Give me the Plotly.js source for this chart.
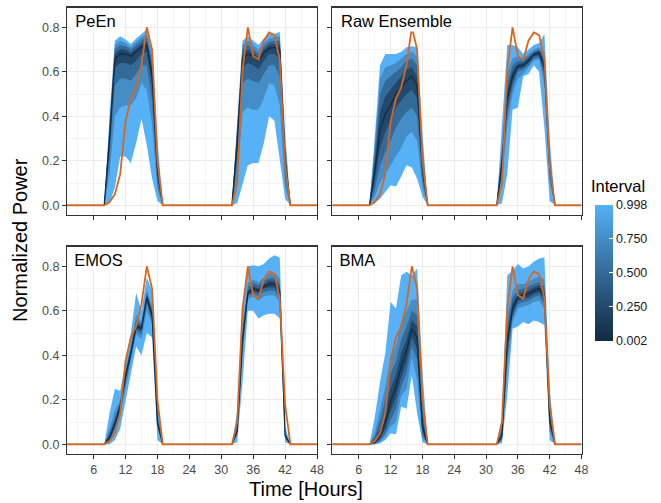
<!DOCTYPE html>
<html>
<head>
<meta charset="utf-8">
<script src="https://cdn.plot.ly/plotly-3.0.1.min.js"></script>
<style>html,body{margin:0;padding:0;background:#fff;}#chart{width:661px;height:503px;}</style>
</head>
<body>
<div id="chart"></div>
<script>
// ---------------- DATA ----------------
// hours: night hours are zero for every series, so only the edges of the night are listed
const hours = [1, 8,9,10,11,12,13,14,15,16,17,18,19, 32,33,34,35,36,37,38,39,40,41,42,43, 48];

const panelNames = ["PeEn", "Raw Ensemble", "EMOS", "BMA"];
const intervalLevels = [0.998, 0.75, 0.5, 0.25];
const medianLevel = 0.002;
const legendTicks = [0.002, 0.25, 0.5, 0.75, 0.998];
const legendTickText = ["0.002", "0.250", "0.500", "0.750", "0.998"];

const observed = [0, 0,0.015,0.05,0.14,0.375,0.48,0.53,0.63,0.80,0.70,0.20,0, 0,0.10,0.61,0.80,0.67,0.655,0.74,0.777,0.765,0.655,0.18,0, 0];

// PeEn
const peenUp998 = [0, 0,.40,.74,.76,.745,.725,.75,.77,.79,.70,.30,0, 0,.38,.74,.76,.74,.72,.75,.77,.77,.78,.33,0, 0];
const peenUp75  = [0, 0,.37,.72,.74,.73,.71,.735,.755,.77,.67,.25,0, 0,.35,.72,.74,.72,.70,.73,.75,.755,.76,.29,0, 0];
const peenUp50  = [0, 0,.35,.70,.72,.715,.70,.72,.74,.755,.64,.22,0, 0,.33,.70,.72,.70,.68,.715,.735,.74,.74,.26,0, 0];
const peenUp25  = [0, 0,.32,.68,.70,.70,.685,.705,.725,.735,.61,.19,0, 0,.30,.68,.70,.685,.665,.70,.72,.725,.72,.23,0, 0];
const peenMed   = [0, 0,.30,.66,.68,.68,.67,.69,.71,.72,.58,.16,0, 0,.28,.66,.68,.67,.65,.685,.705,.71,.70,.20,0, 0];
const peenLo25  = [0, 0,.26,.62,.64,.64,.63,.65,.68,.69,.54,.13,0, 0,.24,.62,.64,.63,.61,.65,.68,.68,.66,.16,0, 0];
const peenLo50  = [0, 0,.21,.54,.57,.57,.56,.59,.63,.63,.47,.10,0, 0,.19,.55,.57,.56,.55,.59,.63,.63,.58,.12,0, 0];
const peenLo75  = [0, 0,.14,.40,.44,.45,.45,.48,.55,.52,.36,.07,0, 0,.12,.42,.44,.43,.43,.48,.55,.54,.45,.08,0, 0];
const peenLo998 = [0, 0,.01,.08,.22,.22,.19,.28,.39,.27,.12,.02,0, 0,.01,.10,.18,.19,.19,.28,.40,.38,.20,.03,0, 0];

// Raw Ensemble
const rawUp998 = [0, 0,.30,.63,.68,.68,.68,.69,.71,.715,.71,.33,0, 0,.36,.72,.72,.71,.68,.70,.72,.73,.77,.30,0, 0];
const rawUp75  = [0, 0,.27,.57,.62,.63,.64,.66,.68,.69,.67,.28,0, 0,.26,.60,.66,.67,.66,.68,.70,.71,.69,.24,0, 0];
const rawUp50  = [0, 0,.23,.50,.56,.58,.60,.62,.65,.66,.63,.24,0, 0,.23,.55,.63,.65,.65,.67,.69,.70,.67,.21,0, 0];
const rawUp25  = [0, 0,.19,.42,.49,.52,.55,.58,.61,.62,.58,.20,0, 0,.21,.51,.605,.635,.64,.66,.685,.695,.645,.19,0, 0];
const rawMed   = [0, 0,.15,.34,.41,.45,.50,.53,.56,.58,.54,.17,0, 0,.19,.48,.58,.625,.63,.65,.677,.685,.625,.17,0, 0];
const rawLo25  = [0, 0,.11,.26,.33,.38,.44,.47,.50,.52,.48,.14,0, 0,.17,.45,.555,.615,.62,.64,.67,.675,.605,.15,0, 0];
const rawLo50  = [0, 0,.07,.18,.24,.29,.35,.39,.42,.44,.40,.11,0, 0,.15,.41,.53,.60,.61,.63,.66,.665,.58,.13,0, 0];
const rawLo75  = [0, 0,.04,.10,.14,.18,.22,.26,.31,.33,.29,.08,0, 0,.12,.36,.50,.57,.59,.62,.65,.655,.54,.10,0, 0];
const rawLo998 = [0, 0,.01,.03,.06,.09,.085,.13,.18,.17,.12,.04,0, 0,.01,.14,.43,.44,.58,.59,.63,.60,.35,.02,0, 0];

// EMOS
const emosUp998 = [0, 0,.14,.25,.24,.37,.50,.68,.60,.75,.69,.20,0, 0,.15,.62,.80,.805,.80,.81,.835,.85,.84,.08,0, 0];
const emosUp75  = [0, 0,.07,.15,.20,.335,.445,.585,.55,.695,.62,.14,0, 0,.09,.525,.725,.74,.73,.75,.765,.77,.745,.055,0, 0];
const emosUp50  = [0, 0,.055,.125,.185,.325,.43,.56,.54,.68,.605,.125,0, 0,.08,.50,.705,.725,.715,.735,.745,.75,.72,.05,0, 0];
const emosUp25  = [0, 0,.04,.105,.18,.315,.42,.545,.53,.67,.595,.11,0, 0,.07,.485,.69,.71,.70,.72,.735,.735,.705,.045,0, 0];
const emosMed   = [0, 0,.03,.09,.17,.31,.41,.53,.52,.66,.58,.10,0, 0,.06,.47,.68,.70,.69,.71,.72,.72,.69,.04,0, 0];
const emosLo25  = [0, 0,.02,.08,.16,.295,.40,.52,.51,.645,.565,.09,0, 0,.055,.45,.67,.69,.68,.70,.705,.705,.675,.035,0, 0];
const emosLo50  = [0, 0,.015,.075,.15,.285,.39,.51,.495,.635,.555,.085,0, 0,.05,.43,.665,.68,.665,.685,.69,.69,.66,.03,0, 0];
const emosLo75  = [0, 0,.01,.065,.13,.265,.375,.495,.475,.60,.54,.07,0, 0,.04,.40,.65,.665,.645,.665,.67,.67,.64,.025,0, 0];
const emosLo998 = [0, 0,0,.02,.07,.20,.32,.44,.40,.50,.48,.02,0, 0,.01,.28,.60,.60,.565,.58,.587,.587,.565,.01,0, 0];

// BMA
const bmaUp998 = [0, 0,.12,.28,.41,.64,.61,.76,.775,.76,.79,.33,0, 0,.12,.76,.78,.81,.79,.80,.82,.835,.84,.25,0, 0];
const bmaUp75  = [0, 0,.05,.16,.26,.40,.44,.55,.60,.65,.65,.20,0, 0,.08,.58,.69,.72,.72,.73,.745,.755,.74,.17,0, 0];
const bmaUp50  = [0, 0,.035,.11,.20,.32,.37,.47,.53,.60,.58,.15,0, 0,.065,.53,.66,.695,.70,.71,.72,.73,.71,.145,0, 0];
const bmaUp25  = [0, 0,.02,.07,.15,.25,.31,.41,.47,.56,.53,.11,0, 0,.05,.49,.635,.675,.685,.69,.705,.715,.69,.125,0, 0];
const bmaMed   = [0, 0,.01,.04,.10,.19,.26,.35,.42,.52,.48,.08,0, 0,.04,.46,.61,.66,.67,.677,.69,.70,.67,.11,0, 0];
const bmaLo25  = [0, 0,.005,.025,.07,.15,.21,.30,.37,.48,.43,.06,0, 0,.03,.43,.59,.645,.655,.66,.675,.685,.65,.095,0, 0];
const bmaLo50  = [0, 0,.003,.018,.05,.11,.16,.26,.32,.44,.38,.045,0, 0,.022,.39,.57,.63,.64,.645,.66,.67,.63,.08,0, 0];
const bmaLo75  = [0, 0,.001,.01,.035,.08,.10,.22,.25,.39,.29,.03,0, 0,.015,.34,.55,.61,.62,.625,.64,.645,.61,.06,0, 0];
const bmaLo998 = [0, 0,0,.005,.02,.05,.045,.17,.16,.31,.14,.01,0, 0,.005,.22,.52,.53,.55,.54,.557,.55,.535,.02,0, 0];

// ---------------- STYLE ----------------
const colorStops = [[0, "#132B43"], [0.25, "#22496C"], [0.5, "#336A98"], [0.75, "#448DC6"], [1, "#56B1F7"]];
const cMin = 0.002, cMax = 0.998;
function hexToRgb(h){return [parseInt(h.substr(1,2),16),parseInt(h.substr(3,2),16),parseInt(h.substr(5,2),16)];}
function colorAt(v){
  const t = Math.max(0, Math.min(1, (v - cMin) / (cMax - cMin)));
  for (let i = 1; i < colorStops.length; i++){
    if (t <= colorStops[i][0]){
      const a = colorStops[i-1], b = colorStops[i];
      const f = (t - a[0]) / (b[0] - a[0]);
      const ca = hexToRgb(a[1]), cb = hexToRgb(b[1]);
      const c = ca.map((x, k) => Math.round(x + (cb[k] - x) * f));
      return "rgb(" + c.join(",") + ")";
    }
  }
  return colorStops[colorStops.length-1][1];
}
const obsColor = "#D9661F";

const panels = [
  {xa: "x",  ya: "y",  bands: [[peenLo998, peenUp998], [peenLo75, peenUp75], [peenLo50, peenUp50], [peenLo25, peenUp25]], med: peenMed},
  {xa: "x2", ya: "y2", bands: [[rawLo998, rawUp998], [rawLo75, rawUp75], [rawLo50, rawUp50], [rawLo25, rawUp25]], med: rawMed},
  {xa: "x3", ya: "y3", bands: [[emosLo998, emosUp998], [emosLo75, emosUp75], [emosLo50, emosUp50], [emosLo25, emosUp25]], med: emosMed},
  {xa: "x4", ya: "y4", bands: [[bmaLo998, bmaUp998], [bmaLo75, bmaUp75], [bmaLo50, bmaUp50], [bmaLo25, bmaUp25]], med: bmaMed}
];

const traces = [];
const revHours = hours.slice().reverse();
panels.forEach(p => {
  p.bands.forEach((b, i) => {
    traces.push({
      type: "scatter", mode: "lines", xaxis: p.xa, yaxis: p.ya,
      x: hours.concat(revHours), y: b[1].concat(b[0].slice().reverse()),
      fill: "toself", fillcolor: colorAt(intervalLevels[i]),
      line: {width: 0}, hoverinfo: "skip", showlegend: false
    });
  });
  traces.push({type: "scatter", mode: "lines", xaxis: p.xa, yaxis: p.ya, x: hours, y: p.med,
    line: {color: colorAt(medianLevel), width: 1.3}, hoverinfo: "skip", showlegend: false});
  traces.push({type: "scatter", mode: "lines", xaxis: p.xa, yaxis: p.ya, x: hours, y: observed,
    line: {color: obsColor, width: 1.8}, hoverinfo: "skip", showlegend: false});
});

// colour bar holder
traces.push({
  type: "scatter", mode: "markers", xaxis: "x", yaxis: "y", x: [null, null], y: [null, null],
  showlegend: false, hoverinfo: "skip",
  marker: {
    color: [cMin, cMax], cmin: cMin, cmax: cMax, colorscale: colorStops, showscale: true,
    colorbar: {
      x: 595/661, xanchor: "left", xpad: 0, thickness: 18, thicknessmode: "pixels",
      len: 136/503, lenmode: "fraction", y: 1 - 272.5/503, yanchor: "middle", ypad: 0,
      outlinewidth: 0, borderwidth: 0,
      tickmode: "array", tickvals: legendTicks, ticktext: legendTickText,
      ticks: "inside", ticklen: 4, tickcolor: "#ffffff", tickwidth: 1,
      tickprefix: "\u00a0\u00a0\u00a0",
      tickfont: {family: "Liberation Sans, Arial, sans-serif", size: 12.5, color: "#1A1A1A"}
    }
  }
});

const W = 661, H = 503;
const xDomL = [67/W, 317/W], xDomR = [332.3/W, 581.5/W];
const yDomT = [1 - 214.5/H, 1 - 7.5/H], yDomB = [1 - 453.5/H, 1 - 246.5/H];

function xAxis(domain, anchor, labels){
  return {domain, anchor, range: [1, 48], tick0: 0, dtick: 6, ticks: "outside", ticklen: 4,
    tickcolor: "#333333", tickwidth: 1, showline: true, mirror: true, linecolor: "#333333", linewidth: 1.1,
    showgrid: true, gridcolor: "#EBEBEB", gridwidth: 1.1, zeroline: false, showticklabels: labels,
    minor: {tick0: 0, dtick: 3, showgrid: true, gridcolor: "#EBEBEB", gridwidth: 0.55},
    tickfont: {size: 12.5, color: "#4D4D4D"}, fixedrange: true};
}
function yAxis(domain, anchor, labels){
  return {domain, anchor, range: [-0.041, 0.889], tick0: 0, dtick: 0.2, tickformat: ".1f", ticks: "outside", ticklen: 4,
    tickcolor: "#333333", tickwidth: 1, showline: true, mirror: true, linecolor: "#333333", linewidth: 1.1,
    showgrid: true, gridcolor: "#EBEBEB", gridwidth: 1.1, zeroline: false, showticklabels: labels,
    minor: {tick0: 0, dtick: 0.1, showgrid: true, gridcolor: "#EBEBEB", gridwidth: 0.55},
    tickfont: {size: 12.5, color: "#4D4D4D"}, fixedrange: true};
}

const labelBoxW = [54, 126, 60, 48];
const annotations = panelNames.map((name, i) => {
  const xr = ["x", "x2", "x3", "x4"][i], yr = ["y", "y2", "y3", "y4"][i];
  return {text: name, xref: xr + " domain", yref: yr + " domain", x: 0, y: 1, xanchor: "left", yanchor: "top",
    xshift: 1, yshift: -1, showarrow: false, bgcolor: "#ffffff", borderpad: 0, width: labelBoxW[i] - 1, height: 21, align: "center",
    font: {size: 16.5, color: "#000000"}};
});
annotations.push({text: "Time [Hours]", xref: "paper", yref: "paper", x: 306/W, y: 1 - 489/H, xanchor: "center", yanchor: "middle",
  showarrow: false, font: {size: 20, color: "#000000"}});
annotations.push({text: "Normalized Power", xref: "paper", yref: "paper", x: 20/W, y: 1 - 240/H, xanchor: "center", yanchor: "middle",
  textangle: -90, showarrow: false, font: {size: 20, color: "#000000"}});
annotations.push({text: "Interval", xref: "paper", yref: "paper", x: 589/W, y: 1 - 186/H, xanchor: "left", yanchor: "middle",
  showarrow: false, font: {size: 16.5, color: "#000000"}});

const layout = {
  width: W, height: H, margin: {l: 0, r: 0, t: 0, b: 0}, paper_bgcolor: "#ffffff", plot_bgcolor: "#ffffff",
  font: {family: "Liberation Sans, Arial, sans-serif", color: "#000000"},
  showlegend: false,
  xaxis: xAxis(xDomL, "y", false), yaxis: yAxis(yDomT, "x", true),
  xaxis2: xAxis(xDomR, "y2", false), yaxis2: yAxis(yDomT, "x2", false),
  xaxis3: xAxis(xDomL, "y3", true), yaxis3: yAxis(yDomB, "x3", true),
  xaxis4: xAxis(xDomR, "y4", true), yaxis4: yAxis(yDomB, "x4", false),
  annotations
};

Plotly.newPlot("chart", traces, layout, {staticPlot: true, displayModeBar: false});
</script>
</body>
</html>
